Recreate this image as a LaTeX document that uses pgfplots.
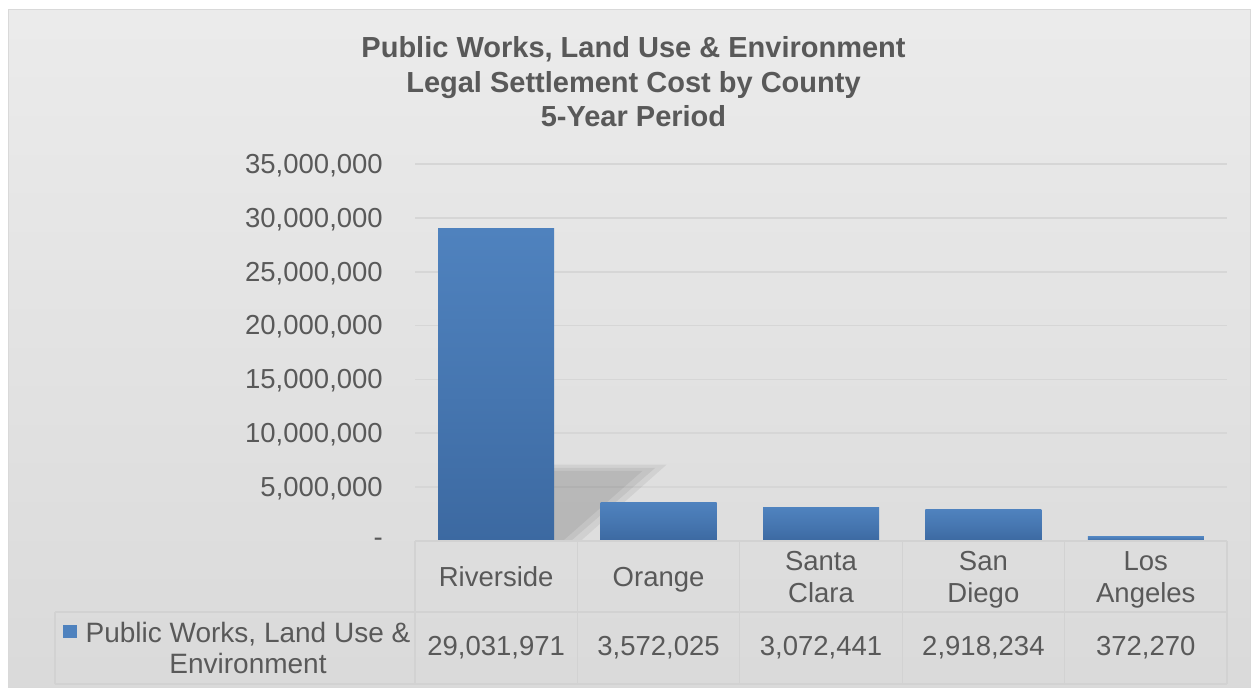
\documentclass[border=0pt]{standalone}
\usepackage{pgfplots}
\pgfplotsset{compat=1.18}
\usepackage{fontspec}
\setmainfont{Liberation Sans}
\definecolor{txt}{HTML}{595959}
\definecolor{barTop}{HTML}{4F82BE}
\definecolor{barBot}{HTML}{3C69A1}
\definecolor{gridc}{HTML}{D6D6D6}
\definecolor{tabc}{HTML}{D2D2D2}
\definecolor{bgA}{HTML}{F9F9F9}
\definecolor{bgB}{HTML}{D9D9D9}
\definecolor{bgC}{HTML}{F4F4F4}
\definecolor{frame}{HTML}{D9D9D9}
\pgfdeclareverticalshading{bgshade}{100bp}{color(0bp)=(bgA); color(23bp)=(bgB); color(100bp)=(bgC)}
\pgfplotsset{mybar/.style={ybar, bar width=116pt, bar shift=0pt, draw=none, top color=barTop, bottom color=barBot, middle color=barTop!55!barBot}}
\begin{document}
\begin{tikzpicture}[x=1pt,y=1pt]
\path[use as bounding box] (0,0) rectangle (1252,688);
\fill[white] (0,0) rectangle (1252,688);
\shade[shading=bgshade] (8,1) rectangle (1250,678);
\draw[frame, line width=1pt] (8,1) rectangle (1250,678);
\node[align=center, text=txt, font=\bfseries\fontsize{29}{34.5}\selectfont] at (633.5,606) {Public Works, Land Use \& Environment\\Legal Settlement Cost by County\\5-Year Period};
\begin{axis}[
  at={(415pt,147pt)}, anchor=south west,
  scale only axis, width=812pt, height=377pt,
  xmin=-0.5, xmax=4.5, ymin=0, ymax=35000000,
  axis line style={draw=none},
  major tick length=0pt,
  clip=false,
  scaled y ticks=false,
  ymajorgrids, grid style={gridc, line width=1.6pt},
  ytick={0,5000000,10000000,15000000,20000000,25000000,30000000,35000000},
  yticklabels={{-\hspace{16pt}},{5,000,000},{10,000,000},{15,000,000},{20,000,000},{25,000,000},{30,000,000},{35,000,000}},
  yticklabel style={anchor=east, inner sep=0pt, xshift=-32pt, yshift=-1.5pt, text=txt, font=\fontsize{27.5}{32}\selectfont},
  xtick={0,1,2,3,4},
  xticklabels={{\strut Riverside}, {\strut Orange}, {\strut Santa\\\strut Clara}, {\strut San\\\strut Diego}, {\strut Los\\\strut Angeles}},
  xticklabel style={align=center, anchor=center, inner sep=0pt, yshift=-39pt, text=txt, font=\fontsize{27.5}{32}\selectfont},
  /pgf/number format/assume math mode=true,
]
\fill[black, opacity=0.06] (axis cs:0.357,0) -- (axis cs:0.357,7100000) -- (axis cs:1.05,7100000) -- (axis cs:0.52,0) -- cycle;
\fill[black, opacity=0.06] (axis cs:0.357,0) -- (axis cs:0.357,6800000) -- (axis cs:0.98,6800000) -- (axis cs:0.46,0) -- cycle;
\fill[black, opacity=0.06] (axis cs:0.357,0) -- (axis cs:0.357,6500000) -- (axis cs:0.9,6500000) -- (axis cs:0.41,0) -- cycle;
\addplot[mybar] coordinates {(0,29031971)};
\addplot[mybar] coordinates {(1,3572025)};
\addplot[mybar] coordinates {(2,3072441)};
\addplot[mybar] coordinates {(3,2918234)};
\addplot[mybar] coordinates {(4,372270)};
\end{axis}
% data table
\draw[tabc, line width=1.2pt] (415,147) -- (1227,147);
\draw[tabc, line width=1.2pt] (55,76) -- (1227,76);
\draw[tabc, line width=1.2pt] (55,4) -- (1227,4);
\foreach \x in {415,577.4,739.8,902.2,1064.6,1227} {\draw[tabc, line width=1.2pt] (\x,4) -- (\x,147);}
\draw[tabc, line width=1.2pt] (55,4) -- (55,76);
\fill[barTop] (63,50) rectangle (77,63);
\node[align=center, text=txt, font=\fontsize{28}{31}\selectfont] at (248,40) {Public Works, Land Use \&\\Environment};
\foreach \x/\v in {496.2/{29,031,971},658.6/{3,572,025},821/{3,072,441},983.4/{2,918,234},1145.8/{372,270}} {
  \node[text=txt, font=\fontsize{27.5}{32}\selectfont] at (\x,40) {\v};
}
\end{tikzpicture}
\end{document}
